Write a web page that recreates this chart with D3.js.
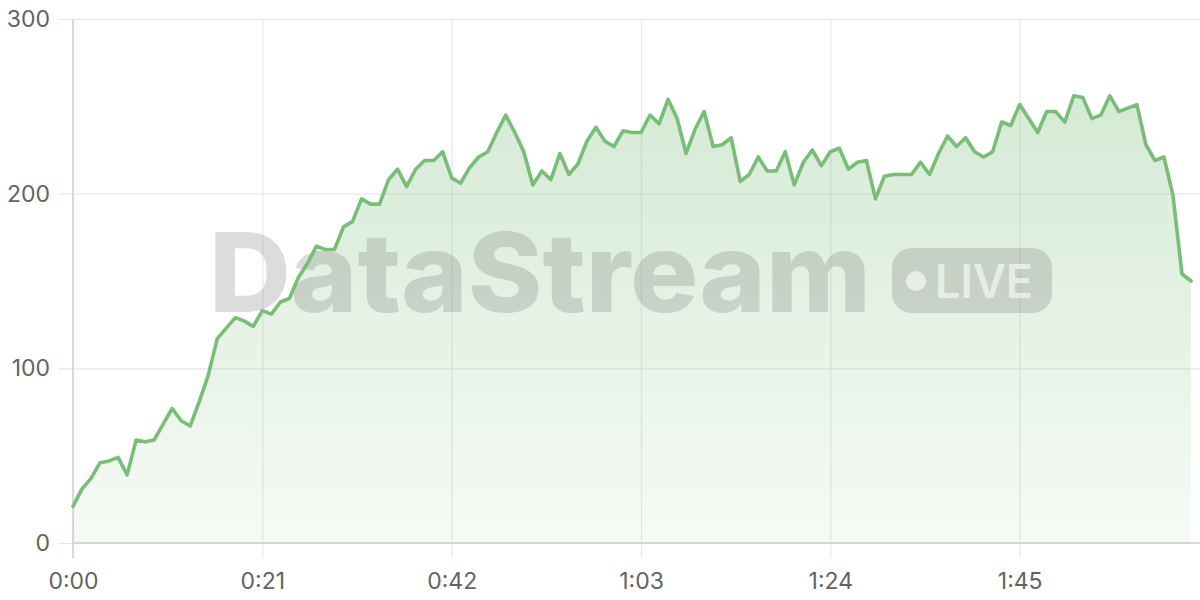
<!DOCTYPE html>
<html>
<head>
<meta charset="utf-8">
<script src="https://cdn.jsdelivr.net/npm/d3@7/dist/d3.min.js"></script>
<style>
  html, body { margin: 0; padding: 0; background: #ffffff; }
  svg { display: block; }
</style>
</head>
<body>
<svg id="chart" width="1200" height="600"></svg>
<script>
// ---- data (one value per second, 0..124 s) ----
const seconds = d3.range(0, 125);
const values = [
  21, 31, 37, 46, 47, 49, 39, 59, 58, 59,
  68, 77, 70, 67, 81, 96, 117, 123, 129, 127,
  124, 133, 131, 138, 140, 152, 160, 170, 168, 168,
  181, 184, 197, 194, 194, 208, 214, 204, 214, 219,
  219, 224, 209, 206, 215, 221, 224, 235, 245, 235,
  224, 205, 213, 208, 223, 211, 217, 230, 238, 230,
  227, 236, 235, 235, 245, 240, 254, 243, 223, 237,
  247, 227, 228, 232, 207, 211, 221, 213, 213, 224,
  205, 218, 225, 216, 224, 226, 214, 218, 219, 197,
  210, 211, 211, 211, 218, 211, 223, 233, 227, 232,
  224, 221, 224, 241, 239, 251, 243, 235, 247, 247,
  241, 256, 255, 243, 245, 256, 247, 249, 251, 228,
  219, 221, 199, 154, 150
];
const xTickValues = [0, 21, 42, 63, 84, 105];
const yTickValues = [0, 100, 200, 300];
const watermarkText = "DataStream";
const badgeText = "LIVE";

const data = seconds.map((s, i) => ({ t: s, v: values[i] }));

// ---- layout ----
const svg = d3.select("#chart");
const mLeft = 73, mRight = 1200, mTop = 19, mBottom = 543;

const x = d3.scaleLinear().domain([0, 125]).range([mLeft, mRight]);
const y = d3.scaleLinear().domain([0, 300]).range([mBottom, mTop]);

const fmt = s => Math.floor(s / 60) + ":" + String(s % 60).padStart(2, "0");

// gradient
const defs = svg.append("defs");
const grad = defs.append("linearGradient")
  .attr("id", "areaGrad")
  .attr("gradientUnits", "userSpaceOnUse")
  .attr("x1", 0).attr("x2", 0)
  .attr("y1", y(260)).attr("y2", y(0));
grad.append("stop").attr("offset", "0%").attr("stop-color", "#79bd79").attr("stop-opacity", 0.32);
grad.append("stop").attr("offset", "100%").attr("stop-color", "#79bd79").attr("stop-opacity", 0.07);

// horizontal grid + y axis ticks
const yAxis = d3.axisLeft(y)
  .tickValues(yTickValues)
  .tickSize(0)
  .tickFormat(d3.format("d"));
const gy = svg.append("g")
  .attr("transform", `translate(${mLeft},0)`)
  .call(yAxis);
gy.select(".domain").remove();
gy.selectAll(".tick line")
  .attr("x1", -15).attr("x2", mRight - mLeft)
  .attr("stroke", "#e8e8e8").attr("stroke-width", 1.2);
gy.selectAll(".tick text")
  .attr("x", -23)
  .attr("fill", "#636363")
  .style("font-family", "Inter, 'DejaVu Sans', sans-serif")
  .style("font-size", "23px");

// vertical grid + x axis ticks
const xAxis = d3.axisBottom(x)
  .tickValues(xTickValues)
  .tickSize(0)
  .tickFormat(fmt);
const gx = svg.append("g")
  .attr("transform", `translate(0,${mBottom})`)
  .call(xAxis);
gx.select(".domain").remove();
gx.selectAll(".tick line")
  .attr("y1", mTop - mBottom).attr("y2", 15)
  .attr("stroke", "#e8e8e8").attr("stroke-width", 1.2);
gx.selectAll(".tick text")
  .attr("y", 46)
  .attr("dy", 0)
  .attr("fill", "#636363")
  .style("font-family", "Inter, 'DejaVu Sans', sans-serif")
  .style("font-size", "23px");

// axis lines (darker)
svg.append("line")
  .attr("x1", mLeft).attr("x2", mRight)
  .attr("y1", y(0)).attr("y2", y(0))
  .attr("stroke", "#cfcfcf").attr("stroke-width", 1.5);
svg.append("line")
  .attr("x1", x(0)).attr("x2", x(0))
  .attr("y1", mTop).attr("y2", mBottom + 15)
  .attr("stroke", "#cfcfcf").attr("stroke-width", 1.5);

// area
const area = d3.area()
  .x(d => x(d.t))
  .y0(y(0))
  .y1(d => y(d.v));
svg.append("path")
  .datum(data)
  .attr("d", area)
  .attr("fill", "url(#areaGrad)");

// watermark
const wm = svg.append("g").attr("class", "watermark");
wm.append("text")
  .attr("x", 209).attr("y", 312)
  .attr("textLength", 662)
  .attr("lengthAdjust", "spacingAndGlyphs")
  .attr("fill", "rgb(120,120,120)")
  .attr("fill-opacity", 0.26)
  .style("font-family", "Inter, 'Open Sans', sans-serif")
  .style("font-weight", 800)
  .style("font-size", "110px")
  .text(watermarkText);
wm.append("rect")
  .attr("x", 892).attr("y", 248)
  .attr("width", 160).attr("height", 65)
  .attr("rx", 20)
  .attr("fill", "rgb(120,120,120)")
  .attr("fill-opacity", 0.26);
wm.append("circle")
  .attr("cx", 916).attr("cy", 281).attr("r", 10)
  .attr("fill", "#ffffff").attr("fill-opacity", 0.6);
wm.append("text")
  .attr("x", 935).attr("y", 298)
  .attr("textLength", 98)
  .attr("lengthAdjust", "spacingAndGlyphs")
  .attr("fill", "#ffffff").attr("fill-opacity", 0.6)
  .style("font-family", "Inter, 'Open Sans', sans-serif")
  .style("font-weight", 600)
  .style("font-size", "46px")
  .text(badgeText);

// line
const line = d3.line()
  .x(d => x(d.t))
  .y(d => y(d.v));
svg.append("path")
  .datum(data)
  .attr("d", line)
  .attr("fill", "none")
  .attr("stroke", "#79bd79")
  .attr("stroke-width", 3.6)
  .attr("stroke-linejoin", "round")
  .attr("stroke-linecap", "round");
</script>
</body>
</html>
